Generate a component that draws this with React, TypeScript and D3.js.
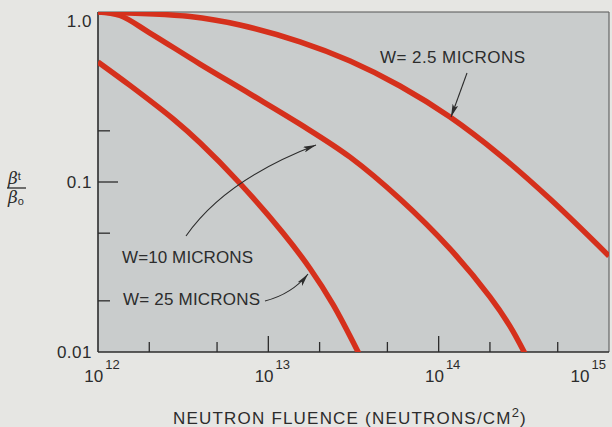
import React from "react";
import * as d3 from "d3";

// ---- data (fluence in neutrons/cm^2, ratio beta_t / beta_0) ----
const fluence25 = [1e12, 1.54e12, 2.76e12, 3.97e12, 6.82e12, 1.22e13, 1.76e13, 2.4e13, 3.4e13];
const ratio25 = [0.508, 0.37, 0.235, 0.17, 0.098, 0.0501, 0.0309, 0.019, 0.0098];

const fluence10 = [1e12, 1.346e12, 2.02e12, 3.97e12, 7.8e12, 1.535e13, 3.02e13, 5.93e13, 1.166e14, 2.0e14, 2.62e14, 3.21e14];
const ratio10 = [1.0, 0.954, 0.752, 0.494, 0.33, 0.219, 0.14, 0.0794, 0.0404, 0.0211, 0.0142, 0.0098];

const fluence2_5 = [1e12, 3.47e12, 6.82e12, 1.535e13, 3.02e13, 5.93e13, 1.166e14, 2.29e14, 4.51e14, 1.0e15];
const ratio2_5 = [1.0, 0.94, 0.838, 0.668, 0.515, 0.367, 0.241, 0.144, 0.0794, 0.0367];

const xMajor = [1e12, 1e13, 1e14, 1e15];
const xExponents = ["12", "13", "14", "15"];
const xMinor = [2e12, 5e12, 2e13, 5e13, 2e14, 5e14];
const yMajor = [1, 0.1, 0.01];
const yLabels = ["1.0", "0.1", "0.01"];
const yMinor = [0.2, 0.05, 0.02];

const W = 612;
const H = 427;
const left = 98;
const right = 609;
const top = 12;
const bottom = 352;

const RED = "#d5301c";
const INK = "#2c2c2c";
const FONT = "'Liberation Sans', Arial, sans-serif";

export default function App() {
  const x = d3.scaleLog().domain([1e12, 1e15]).range([left, right]);
  const y = d3.scaleLog().domain([0.01, 1]).range([bottom, top]);
  const line = d3
    .line<[number, number]>()
    .x((d) => x(d[0]))
    .y((d) => y(d[1]))
    .curve(d3.curveCatmullRom.alpha(0.5));

  const series = [
    { f: fluence25, r: ratio25 },
    { f: fluence10, r: ratio10 },
    { f: fluence2_5, r: ratio2_5 },
  ];

  return (
    <svg
      width={W}
      height={H}
      style={{ position: "absolute", left: 0, top: 0 }}
      xmlns="http://www.w3.org/2000/svg"
    >
      <defs>
        <clipPath id="plotClip">
          <rect x={left} y={top} width={right - left} height={bottom - top} />
        </clipPath>
        <marker
          id="arrow"
          viewBox="0 0 13 6"
          refX={13}
          refY={3}
          markerWidth={13}
          markerHeight={6}
          markerUnits="userSpaceOnUse"
          orient="auto"
        >
          <path d="M0,0 L13,3 L0,6 L3,3 Z" fill={INK} />
        </marker>
      </defs>

      <rect x={0} y={0} width={W} height={H} fill="#e6e6e3" />
      <rect x={left} y={top} width={right - left} height={bottom - top} fill="#c9cccc" />

      {/* frame */}
      <line x1={left} y1={top} x2={right} y2={top} stroke="#555" strokeWidth={1.2} />
      <line x1={right} y1={top} x2={right} y2={bottom} stroke="#666" strokeWidth={1.2} />
      <line x1={left} y1={top} x2={left} y2={bottom} stroke={INK} strokeWidth={1.6} />
      <line x1={left} y1={bottom} x2={right} y2={bottom} stroke={INK} strokeWidth={1.6} />

      {/* ticks (inward) */}
      {xMajor.slice(1, 3).map((v) => (
        <line key={"xM" + v} x1={x(v)} x2={x(v)} y1={bottom} y2={bottom - 16} stroke={INK} strokeWidth={1.3} />
      ))}
      {xMinor.map((v) => (
        <line key={"xm" + v} x1={x(v)} x2={x(v)} y1={bottom} y2={bottom - 10} stroke={INK} strokeWidth={1.3} />
      ))}
      {yMajor.slice(1, 2).map((v) => (
        <line key={"yM" + v} x1={left} x2={left + 20} y1={y(v)} y2={y(v)} stroke={INK} strokeWidth={1.3} />
      ))}
      {yMinor.map((v) => (
        <line key={"ym" + v} x1={left} x2={left + 12} y1={y(v)} y2={y(v)} stroke={INK} strokeWidth={1.3} />
      ))}

      {/* curves */}
      <g clipPath="url(#plotClip)">
        {series.map((s, i) => (
          <path
            key={i}
            d={line(s.f.map((f, j) => [f, s.r[j]] as [number, number])) || ""}
            fill="none"
            stroke={RED}
            strokeWidth={5.5}
            strokeLinecap="butt"
          />
        ))}
      </g>

      {/* y tick labels */}
      {yMajor.map((v, i) => (
        <text
          key={"yl" + v}
          x={left - 6}
          y={Math.max(y(v), top + 9) + 6}
          textAnchor="end"
          fontFamily={FONT}
          fontSize={17}
          letterSpacing={0.5}
          fill={INK}
        >
          {yLabels[i]}
        </text>
      ))}

      {/* x tick labels */}
      {xMajor.map((v, i) => {
        const last = i === xMajor.length - 1;
        return (
          <text
            key={"xl" + v}
            x={last ? right - 3 : x(v) + 4}
            y={382}
            textAnchor={last ? "end" : "middle"}
            fontFamily={FONT}
            fontSize={17}
            fill={INK}
          >
            10
            <tspan fontSize={13} dy={-13} dx={2}>
              {xExponents[i]}
            </tspan>
          </text>
        );
      })}

      {/* x axis title */}
      <text
        x={350}
        y={424}
        textAnchor="middle"
        fontFamily={FONT}
        fontSize={17}
        letterSpacing={1.2}
        fill={INK}
      >
        NEUTRON FLUENCE (NEUTRONS/CM
        <tspan fontSize={13} dy={-7}>
          2
        </tspan>
        <tspan dy={7}>)</tspan>
      </text>

      {/* y axis title: fraction */}
      <g fontFamily="'DejaVu Serif', serif" fill={INK} fontStyle="italic">
        <text x={8} y={184} fontSize={17}>
          β
          <tspan fontSize={11} dy={-4} fontStyle="normal" fontFamily={FONT}>
            t
          </tspan>
        </text>
        <line x1={7} x2={26} y1={188} y2={188} stroke={INK} strokeWidth={1.3} />
        <text x={8} y={203} fontSize={17}>
          β
          <tspan fontSize={11} dy={2} fontStyle="normal" fontFamily={FONT}>
            o
          </tspan>
        </text>
      </g>

      {/* annotations */}
      <g fontFamily={FONT} fontSize={17} fill={INK}>
        <text x={380} y={63} textLength={145} lengthAdjust="spacing">
          W= 2.5 MICRONS
        </text>
        <text x={122} y={263} textLength={131} lengthAdjust="spacing">
          W=10 MICRONS
        </text>
        <text x={123} y={305} textLength={137} lengthAdjust="spacing">
          W= 25 MICRONS
        </text>
      </g>
      <g fill="none" stroke={INK} strokeWidth={1.1}>
        <path d="M467,73 L451,117" markerEnd="url(#arrow)" />
        <path d="M186,236 Q225,180 316,145" markerEnd="url(#arrow)" />
        <path d="M265,301 Q292,294 308,274" markerEnd="url(#arrow)" />
      </g>
    </svg>
  );
}
